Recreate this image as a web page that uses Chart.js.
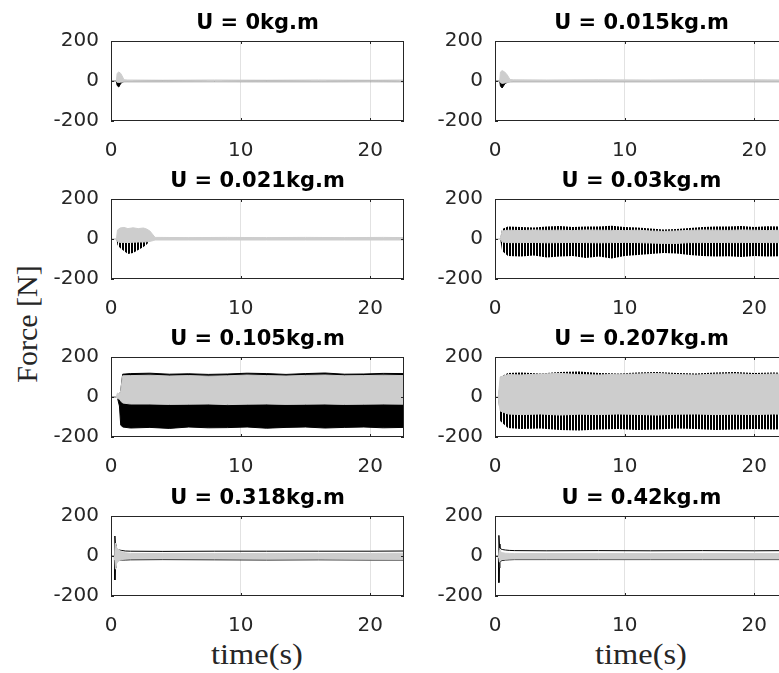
<!DOCTYPE html>
<html>
<head>
<meta charset="utf-8">
<script src="https://cdn.jsdelivr.net/npm/chart.js@4.4.0/dist/chart.umd.min.js"></script>
<style>
  html, body { margin: 0; padding: 0; background: #fff; width: 779px; height: 673px; overflow: hidden; }
  body { position: relative; }
  canvas { position: absolute; }
  .lbl { position: absolute; font-family: "Liberation Serif", serif; font-size: 30px; line-height: 30px;
         color: #262626; white-space: nowrap; transform: translate(-50%, -50%) scaleX(1.08); }
  #ylab { left: 27px; top: 324px; transform: translate(-50%, -50%) rotate(-90deg); }
</style>
</head>
<body>
<div class="lbl" id="ylab">Force [N]</div>
<div class="lbl" style="left:257px; top:654px;">time(s)</div>
<div class="lbl" style="left:641px; top:654px;">time(s)</div>
<script>
// panel titles and axis ticks
const titles = ['U = 0kg.m', 'U = 0.015kg.m', 'U = 0.021kg.m', 'U = 0.03kg.m',
                'U = 0.105kg.m', 'U = 0.207kg.m', 'U = 0.318kg.m', 'U = 0.42kg.m'];
const xTicks = [0, 10, 20];
const yTicks = [-200, 0, 200];
const tMax = 22.6;

// envelopes (upper / lower) of each force signal
// U = 0
const t0 = [0, 0.42, 0.47, 0.6, 0.75, 0.9, 1.0, 1.3, 4, 8, 12, 16, 20, 22.6];
const gray0Hi = [0, 0, 38, 45, 38, 20, 6, 5, 4, 5, 4, 5, 4, 5];
const gray0Lo = [0, 0, -6, -8, -6, -5, -4, -4, -4, -3, -4, -4, -3, -4];
const black0Hi = [0, 0, 5, 5, 3, 2, 2, 2, 2, 2, 2, 2, 2, 2];
const black0Lo = [0, 0, -22, -30, -12, -5, -3, -3, -3, -3, -3, -3, -3, -3];
// U = 0.015
const t1 = [0, 0.36, 0.42, 0.55, 0.75, 0.95, 1.15, 1.4, 4, 8, 12, 16, 20, 22.6];
const gray1Hi = [0, 0, 45, 52, 45, 30, 8, 6, 5, 6, 5, 6, 6, 5];
const gray1Lo = [0, 0, -8, -12, -10, -8, -5, -4, -4, -4, -4, -4, -4, -4];
const black1Hi = [0, 0, 5, 5, 3, 2, 2, 2, 2, 2, 2, 2, 2, 2];
const black1Lo = [0, 0, -25, -35, -15, -6, -3, -3, -3, -3, -3, -3, -3, -3];
// U = 0.021
const t2 = [0, 0.42, 0.5, 0.7, 1.0, 1.3, 1.7, 2.1, 2.5, 2.75, 3.0, 3.25, 3.4, 6, 9, 12, 15, 18, 21, 22.6];
const gray2Hi = [0, 0, 45, 55, 58, 52, 56, 52, 55, 50, 40, 20, 8, 7, 8, 7, 8, 7, 8, 7];
const gray2Lo = [0, 0, -12, -17, -17, -18, -16, -15, -15, -14, -12, -8, -5, -5, -5, -5, -5, -5, -5, -5];
const black2Hi = [0, 0, 10, 15, 15, 15, 15, 12, 10, 5, 2, 2, 2, 2, 2, 2, 2, 2, 2, 2];
const black2Lo = [0, 0, -30, -45, -60, -75, -70, -55, -40, -28, -10, -4, -3, -3, -3, -3, -3, -3, -3, -3];
// U = 0.03
const t3 = [0, 0.4, 0.55, 1, 2, 3, 4, 5, 6, 7, 8, 9, 10, 11, 12, 13, 14, 15, 16, 17, 18, 19, 20, 21, 22, 22.6];
const gray3Hi = [0, 0, 40, 44, 42, 45, 43, 44, 42, 45, 44, 43, 42, 44, 40, 38, 40, 43, 45, 44, 43, 45, 44, 42, 44, 43];
const gray3Lo = [0, 0, -15, -18, -18, -17, -19, -18, -17, -18, -19, -18, -17, -18, -20, -22, -22, -18, -18, -17, -18, -18, -17, -18, -18, -18];
const black3Hi = [0, 0, 50, 62, 60, 58, 62, 65, 60, 63, 62, 66, 60, 58, 52, 48, 50, 55, 60, 62, 63, 65, 60, 64, 62, 60];
const black3Lo = [0, 0, -60, -85, -88, -82, -92, -88, -85, -95, -88, -98, -85, -80, -75, -70, -72, -80, -85, -88, -86, -90, -85, -88, -86, -88];
// U = 0.105
const t4 = [0, 0.4, 0.5, 0.65, 0.75, 0.9, 1.5, 3, 4.5, 6, 7.5, 9, 10.5, 12, 13.5, 15, 16.5, 18, 19.5, 21, 22.6];
const gray4Hi = [0, 0, 20, 15, 30, 106, 107, 109, 105, 107, 104, 106, 110, 107, 105, 108, 110, 106, 107, 109, 107];
const gray4Lo = [0, 0, -8, -10, -20, -30, -35, -35, -37, -36, -35, -38, -36, -35, -37, -36, -35, -37, -36, -35, -36];
const black4Hi = [0, 0, 0, 10, 30, 114, 117, 119, 114, 116, 113, 115, 119, 117, 113, 117, 120, 114, 115, 118, 117];
const black4Lo = [0, 0, -5, -45, -140, -150, -155, -152, -157, -150, -154, -153, -150, -156, -152, -150, -155, -152, -150, -154, -152];
// U = 0.207
const t5 = [0, 0.25, 0.4, 1, 2, 3.5, 5, 6.5, 8, 9.5, 11, 12.5, 14, 15.5, 17, 18.5, 20, 21.5, 22.6];
const gray5Hi = [0, 0, 100, 112, 110, 115, 118, 112, 110, 114, 115, 118, 112, 110, 114, 116, 112, 115, 113];
const gray5Lo = [0, 0, -70, -85, -88, -85, -90, -86, -88, -85, -87, -90, -86, -85, -88, -86, -88, -85, -87];
const black5Hi = [0, 0, 100, 120, 122, 118, 125, 128, 120, 118, 122, 125, 120, 118, 122, 125, 120, 122, 120];
const black5Lo = [0, 0, -120, -155, -160, -158, -165, -168, -162, -160, -165, -162, -158, -160, -165, -162, -160, -163, -160];
// U = 0.318
const t6 = [0, 0.26, 0.3, 0.34, 0.38, 0.45, 0.6, 0.8, 1.1, 1.5, 4, 8, 12, 16, 20, 22.6];
const gray6Hi = [0, 0, 20, 65, 55, 40, 30, 22, 16, 13, 12, 12, 13, 12, 13, 14];
const gray6Lo = [0, 0, -20, -65, -55, -35, -25, -18, -15, -14, -14, -14, -15, -15, -16, -17];
const black6Hi = [0, 0, 100, 60, 40, 35, 30, 28, 25, 24, 23, 24, 24, 24, 24, 25];
const black6Lo = [0, 0, -120, -60, -30, -25, -22, -20, -20, -19, -18, -19, -20, -19, -20, -20];
// U = 0.42
const t7 = [0, 0.26, 0.3, 0.34, 0.38, 0.45, 0.6, 0.8, 1.1, 1.5, 4, 8, 12, 16, 20, 22.6];
const gray7Hi = [0, 0, 10, 30, 25, 20, 16, 14, 13, 12, 12, 12, 12, 12, 12, 12];
const gray7Lo = [0, 0, -10, -30, -25, -20, -17, -16, -15, -15, -15, -15, -15, -15, -15, -15];
const black7Hi = [0, 0, 103, 60, 40, 35, 32, 30, 28, 27, 26, 27, 26, 27, 26, 27];
const black7Lo = [0, 0, -133, -60, -30, -25, -22, -20, -19, -18, -18, -18, -18, -18, -18, -18];

const panels = [
  {t: t0, gHi: gray0Hi, gLo: gray0Lo, bHi: black0Hi, bLo: black0Lo},
  {t: t1, gHi: gray1Hi, gLo: gray1Lo, bHi: black1Hi, bLo: black1Lo},
  {t: t2, gHi: gray2Hi, gLo: gray2Lo, bHi: black2Hi, bLo: black2Lo},
  {t: t3, gHi: gray3Hi, gLo: gray3Lo, bHi: black3Hi, bLo: black3Lo},
  {t: t4, gHi: gray4Hi, gLo: gray4Lo, bHi: black4Hi, bLo: black4Lo},
  {t: t5, gHi: gray5Hi, gLo: gray5Lo, bHi: black5Hi, bLo: black5Lo},
  {t: t6, gHi: gray6Hi, gLo: gray6Lo, bHi: black6Hi, bLo: black6Lo},
  {t: t7, gHi: gray7Hi, gLo: gray7Lo, bHi: black7Hi, bLo: black7Lo}
];

// how the black signal band is painted in each panel
const blackMode = ['solid', 'solid', 'stripes', 'stripes', 'solid', 'stripes', 'none', 'none'];

const BLACK = '#000000';
const GRAY = '#cdcdcd';
const AXIS = '#262626';
const GRID = '#e2e2e2';

const colLeft = [111, 495];
const rowTop = [41, 199, 357, 516];
const plotW = 293, plotH = 80, yAxisW = 100, topH = 30, xAxisH = 50;

function stripes(color) {
  const c = document.createElement('canvas');
  c.width = 3; c.height = 1;
  const g = c.getContext('2d');
  g.fillStyle = color;
  g.fillRect(0, 0, 2, 1);
  return g.createPattern(c, 'repeat');
}

// box + inward ticks like matlab axes
const boxPlugin = {
  id: 'box',
  afterDatasetsDraw(chart) {
    const {ctx, chartArea: a, scales} = chart;
    ctx.save();
    ctx.strokeStyle = AXIS;
    ctx.lineWidth = 1;
    ctx.strokeRect(a.left + 0.5, a.top + 0.5, a.width - 1, a.height - 1);
    ctx.beginPath();
    xTicks.forEach(v => {
      const px = Math.round(scales.x.getPixelForValue(v)) + 0.5;
      ctx.moveTo(px, a.top); ctx.lineTo(px, a.top + 3);
      ctx.moveTo(px, a.bottom); ctx.lineTo(px, a.bottom - 3);
    });
    yTicks.forEach(v => {
      const py = Math.round(scales.y.getPixelForValue(v)) + 0.5;
      ctx.moveTo(a.left, py); ctx.lineTo(a.left + 3, py);
      ctx.moveTo(a.right, py); ctx.lineTo(a.right - 3, py);
    });
    ctx.stroke();
    ctx.restore();
  }
};

const tickFont = {family: 'DejaVu Sans', size: 20};

panels.forEach((p, i) => {
  const col = i % 2, row = Math.floor(i / 2);
  const canvas = document.createElement('canvas');
  canvas.width = yAxisW + plotW;
  canvas.height = topH + plotH + xAxisH;
  canvas.style.left = (colLeft[col] - yAxisW) + 'px';
  canvas.style.top = (rowTop[row] - topH) + 'px';
  document.body.appendChild(canvas);

  const pts = ys => p.t.map((t, k) => ({x: t, y: ys[k]}));
  const mode = blackMode[i];
  const blackBg = mode === 'stripes' ? stripes(BLACK) : BLACK;
  const blackLine = mode === 'stripes' ? 'rgba(0,0,0,0)' : BLACK;

  new Chart(canvas, {
    type: 'line',
    data: {
      datasets: [
        {data: pts(p.gHi), borderColor: GRAY, backgroundColor: GRAY, fill: 1},
        {data: pts(p.gLo), borderColor: GRAY, fill: false},
        {data: pts(p.bHi), borderColor: blackLine, backgroundColor: blackBg, fill: mode === 'none' ? false : 3},
        {data: pts(p.bLo), borderColor: blackLine, fill: false}
      ]
    },
    options: {
      responsive: false,
      animation: false,
      events: [],
      elements: {
        point: {radius: 0},
        line: {borderWidth: 1, tension: 0}
      },
      layout: {padding: 0},
      plugins: {
        legend: {display: false},
        tooltip: {enabled: false},
        title: {
          display: true,
          text: titles[i],
          fullSize: false,
          color: '#000',
          font: {family: 'DejaVu Sans', size: 21, weight: 'bold', lineHeight: '26px'},
          padding: {top: 0, bottom: 4}
        }
      },
      scales: {
        x: {
          type: 'linear',
          min: 0,
          max: tMax,
          afterBuildTicks: s => { s.ticks = xTicks.map(v => ({value: v})); },
          afterFit: s => { s.height = xAxisH; },
          grid: {color: GRID, drawTicks: false},
          border: {display: false},
          ticks: {padding: 18, color: AXIS, font: tickFont, maxRotation: 0}
        },
        y: {
          type: 'linear',
          min: -200,
          max: 200,
          afterBuildTicks: s => { s.ticks = yTicks.map(v => ({value: v})); },
          afterFit: s => { s.width = yAxisW; },
          grid: {display: false, drawTicks: false},
          border: {display: false},
          ticks: {padding: 12, color: AXIS, font: tickFont}
        }
      }
    },
    plugins: [boxPlugin]
  });
});
</script>
</body>
</html>
